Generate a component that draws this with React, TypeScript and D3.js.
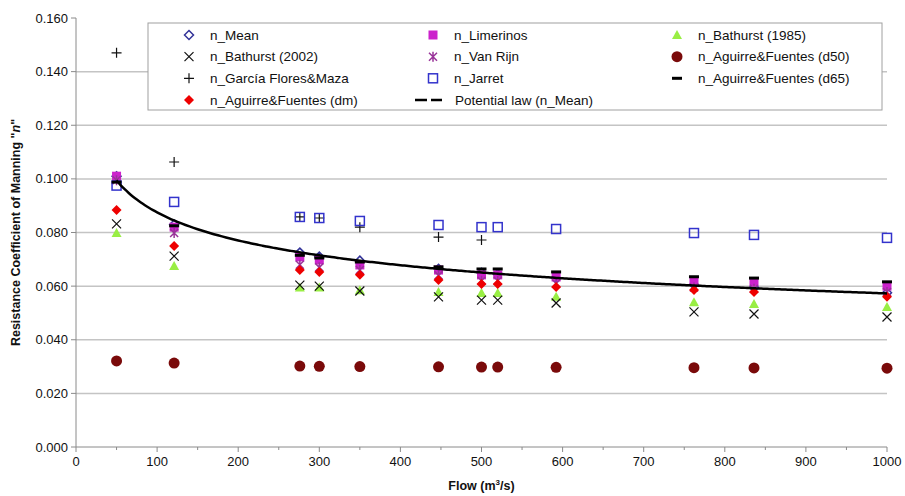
import React from "react";
import * as d3 from "d3";

const flow = [50, 121, 276, 300, 350, 447, 500, 520, 592, 762, 836, 1000];

const nMean = [0.101, 0.083, 0.0725, 0.071, 0.0695, 0.0665, 0.065, 0.0645, 0.063, 0.0605, 0.0595, 0.0575];
const nLimerinos = [0.101, 0.082, 0.0709, 0.0698, 0.0679, 0.066, 0.0642, 0.0642, 0.0634, 0.0618, 0.0616, 0.06];
const nBathurst1985 = [0.0798, 0.0675, 0.0595, 0.0595, 0.0585, 0.0578, 0.0574, 0.0574, 0.056, 0.054, 0.0533, 0.0522];
const nBathurst2002 = [0.0832, 0.0712, 0.0604, 0.06, 0.0582, 0.056, 0.0548, 0.0548, 0.0537, 0.0504, 0.0496, 0.0485];
const nVanRijn = [0.0995, 0.0798, 0.068, 0.067, 0.066, 0.064, 0.062, 0.062, 0.061, 0.0595, 0.059, 0.0578];
const nD50 = [0.0321, 0.0313, 0.0302, 0.0301, 0.03, 0.0299, 0.0298, 0.0298, 0.0297, 0.0296, 0.0295, 0.0294];
const nGarcia = [0.147, 0.1063, 0.0858, 0.0854, 0.082, 0.0783, 0.0772];
const nJarret = [0.0975, 0.0914, 0.0858, 0.0854, 0.0843, 0.0828, 0.082, 0.082, 0.0813, 0.0798, 0.0791, 0.078];
const nD65 = [0.0988, 0.0825, 0.0715, 0.0705, 0.069, 0.0672, 0.0664, 0.0664, 0.0653, 0.0635, 0.063, 0.0616];
const nDm = [0.0884, 0.075, 0.066, 0.0653, 0.0642, 0.0623, 0.0608, 0.0608, 0.0597, 0.0586, 0.0578, 0.056];

const yTicks = [0, 0.02, 0.04, 0.06, 0.08, 0.1, 0.12, 0.14, 0.16];
const xTicks = [0, 100, 200, 300, 400, 500, 600, 700, 800, 900, 1000];

const W = 905;
const H = 496;
const FONT = "Liberation Sans, Arial, sans-serif";

const x = d3.scaleLinear().domain([0, 1000]).range([76, 887]);
const y = d3.scaleLinear().domain([0, 0.16]).range([447, 18]);

type Shape = "diamondOpen" | "square" | "triangle" | "cross" | "star" | "circle" | "plus" | "squareOpen" | "dash" | "diamond";

function Marker({ shape, cx, cy }: { shape: Shape; cx: number; cy: number }) {
  switch (shape) {
    case "diamondOpen":
      return (
        <path
          d={`M${cx},${cy - 4.5}L${cx + 4.5},${cy}L${cx},${cy + 4.5}L${cx - 4.5},${cy}Z`}
          fill="none"
          stroke="#333399"
          strokeWidth={1.5}
        />
      );
    case "square":
      return <rect x={cx - 4.5} y={cy - 4.5} width={9} height={9} fill="#cc22cc" />;
    case "triangle":
      return <path d={`M${cx},${cy - 5}L${cx + 5},${cy + 4}L${cx - 5},${cy + 4}Z`} fill="#99ee44" />;
    case "cross":
      return (
        <path
          d={`M${cx - 4.5},${cy - 4.5}L${cx + 4.5},${cy + 4.5}M${cx + 4.5},${cy - 4.5}L${cx - 4.5},${cy + 4.5}`}
          stroke="#111"
          strokeWidth={1.2}
        />
      );
    case "star":
      return (
        <path
          d={`M${cx - 4},${cy - 4}L${cx + 4},${cy + 4}M${cx + 4},${cy - 4}L${cx - 4},${cy + 4}M${cx},${cy - 5}L${cx},${cy + 5}`}
          stroke="#993399"
          strokeWidth={1.5}
        />
      );
    case "circle":
      return <circle cx={cx} cy={cy} r={5.5} fill="#7a0a0a" />;
    case "plus":
      return (
        <path d={`M${cx - 5},${cy}L${cx + 5},${cy}M${cx},${cy - 5}L${cx},${cy + 5}`} stroke="#111" strokeWidth={1.2} />
      );
    case "squareOpen":
      return (
        <rect x={cx - 4.5} y={cy - 4.5} width={9} height={9} fill="none" stroke="#3333cc" strokeWidth={1.5} />
      );
    case "dash":
      return <rect x={cx - 5} y={cy - 1.5} width={10} height={3} fill="#000" />;
    case "diamond":
      return <path d={`M${cx},${cy - 5}L${cx + 5},${cy}L${cx},${cy + 5}L${cx - 5},${cy}Z`} fill="#ee0000" />;
  }
  return null;
}

const series: { name: string; values: number[]; shape: Shape }[] = [
  { name: "n_Mean", values: nMean, shape: "diamondOpen" },
  { name: "n_Limerinos", values: nLimerinos, shape: "square" },
  { name: "n_Bathurst (1985)", values: nBathurst1985, shape: "triangle" },
  { name: "n_Bathurst (2002)", values: nBathurst2002, shape: "cross" },
  { name: "n_Van Rijn", values: nVanRijn, shape: "star" },
  { name: "n_Aguirre&Fuentes (d50)", values: nD50, shape: "circle" },
  { name: "n_García Flores&Maza", values: nGarcia, shape: "plus" },
  { name: "n_Jarret", values: nJarret, shape: "squareOpen" },
  { name: "n_Aguirre&Fuentes (d65)", values: nD65, shape: "dash" },
  { name: "n_Aguirre&Fuentes (dm)", values: nDm, shape: "diamond" },
];

// power-law trend fitted to n_Mean (least squares in log space)
const lx = flow.map((q) => Math.log(q));
const ly = nMean.map((v) => Math.log(v));
const mx = d3.mean(lx) as number;
const my = d3.mean(ly) as number;
const b = d3.sum(lx, (v, i) => (v - mx) * (ly[i] - my)) / d3.sum(lx, (v) => (v - mx) * (v - mx));
const a = Math.exp(my - b * mx);
const trendQ = d3.range(50, 1001, 5);
const trendLine = d3
  .line<number>()
  .x((q) => x(q))
  .y((q) => y(a * Math.pow(q, b)))
  .curve(d3.curveMonotoneX);

const legendCols = [189, 433, 677];
const legendRows = [35, 56.7, 78.3, 100];

export default function App() {
  const minor = d3.range(50, 1000, 100);
  return (
    <svg width={W} height={H} style={{ position: "absolute", left: 0, top: 0, background: "#fff" }} fontFamily={FONT}>
      <rect width={W} height={H} fill="#fff" />
      {/* gridlines */}
      {yTicks
        .filter((t) => t > 0 && t < 0.16)
        .map((t) => (
          <line key={t} x1={x(0)} x2={x(1000)} y1={y(t)} y2={y(t)} stroke="#c4c4c4" strokeWidth={1.5} />
        ))}
      {/* axes */}
      <line x1={x(0)} x2={x(0)} y1={y(0.16)} y2={y(0)} stroke="#8a8a8a" />
      <line x1={x(0)} x2={x(1000)} y1={y(0)} y2={y(0)} stroke="#8a8a8a" />
      {yTicks.map((t) => (
        <g key={t}>
          <line x1={x(0) - 5} x2={x(0)} y1={y(t)} y2={y(t)} stroke="#8a8a8a" />
          <text x={68} y={y(t)} dy="0.35em" textAnchor="end" fontSize={13} fill="#111">
            {d3.format(".3f")(t)}
          </text>
        </g>
      ))}
      {xTicks.map((t) => (
        <g key={t}>
          <line x1={x(t)} x2={x(t)} y1={y(0)} y2={y(0) + 5} stroke="#8a8a8a" />
          <text x={x(t)} y={466} textAnchor="middle" fontSize={13} fill="#111">
            {t}
          </text>
        </g>
      ))}
      {minor.map((t) => (
        <line key={t} x1={x(t)} x2={x(t)} y1={y(0)} y2={y(0) + 3} stroke="#8a8a8a" />
      ))}
      {/* axis titles */}
      <text x={x(500)} y={490} textAnchor="middle" fontSize={12.5} fontWeight="bold" fill="#111">
        Flow (m<tspan dy={-5} fontSize={8}>3</tspan>
        <tspan dy={5}>/s)</tspan>
      </text>
      <text
        transform={`translate(20,${y(0.08)}) rotate(-90)`}
        textAnchor="middle"
        fontSize={12.5}
        fontWeight="bold"
        fill="#111"
      >
        Resistance Coefficient of Manning "<tspan fontStyle="italic">n</tspan>"
      </text>
      {/* markers */}
      {series.map((s) => (
        <g key={s.name}>
          {s.values.map((v, i) => (
            <Marker key={i} shape={s.shape} cx={x(flow[i])} cy={y(v)} />
          ))}
        </g>
      ))}
      <path d={trendLine(trendQ) || ""} fill="none" stroke="#000" strokeWidth={2.5} />
      {/* legend */}
      <rect x={148} y={23} width={734} height={87} fill="#fff" stroke="#a0a0a0" />
      {series.map((s, i) => {
        const cx = legendCols[i % 3];
        const cy = legendRows[Math.floor(i / 3)];
        return (
          <g key={s.name}>
            <Marker shape={s.shape} cx={cx} cy={cy} />
            <text x={cx + 21} y={cy} dy="0.35em" fontSize={13.5} fill="#111">
              {s.name}
            </text>
          </g>
        );
      })}
      <line
        x1={legendCols[1] - 18}
        x2={legendCols[1] + 9}
        y1={legendRows[3]}
        y2={legendRows[3]}
        stroke="#000"
        strokeWidth={2.5}
        strokeDasharray="12 4"
      />
      <text x={legendCols[1] + 22} y={legendRows[3]} dy="0.35em" fontSize={13.5} fill="#111">
        Potential law (n_Mean)
      </text>
    </svg>
  );
}
